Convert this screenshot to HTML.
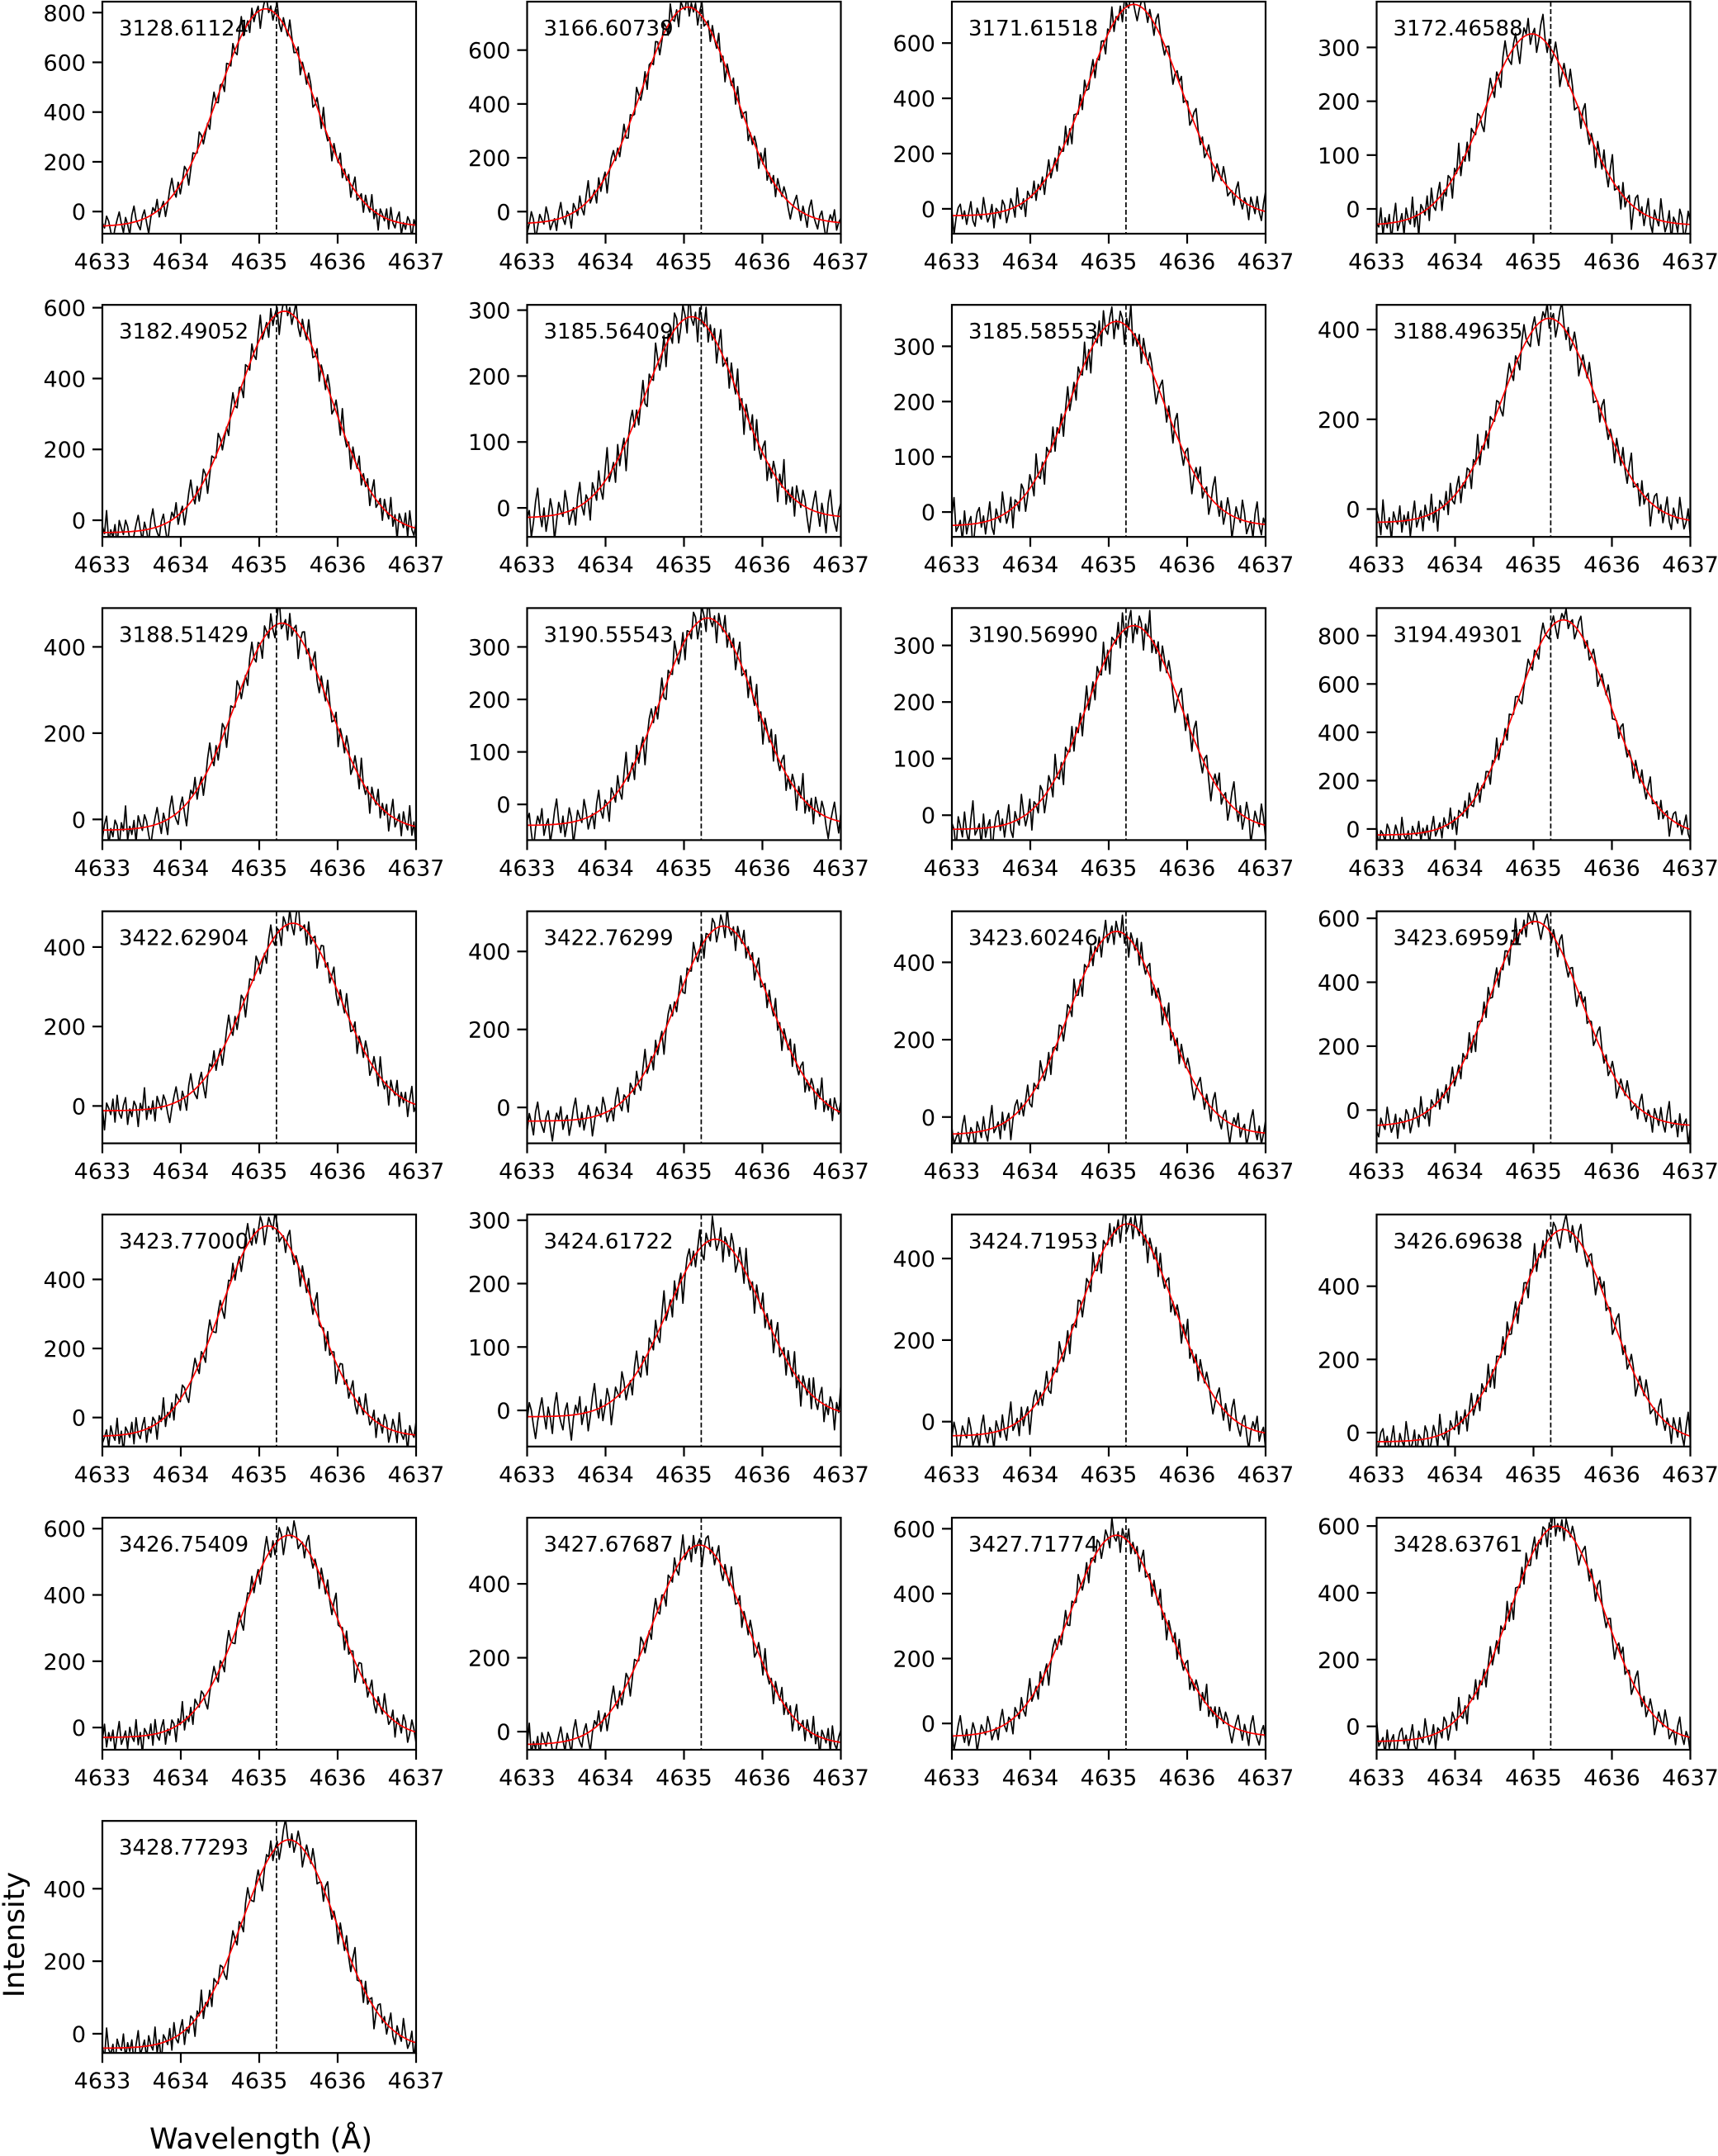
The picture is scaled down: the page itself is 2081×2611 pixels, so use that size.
<!DOCTYPE html>
<html><head><meta charset="utf-8">
<style>
html,body{margin:0;padding:0;background:#fff;}
svg{display:block;font-family:"DejaVu Sans","Liberation Sans",sans-serif;}
</style></head>
<body>
<svg id="fig" width="2081" height="2611" viewBox="0 0 2081 2611" xmlns="http://www.w3.org/2000/svg">
<text x="0" y="0" transform="translate(29,2343) rotate(-90)" font-size="35" text-anchor="middle">Intensity</text>
<text x="316" y="2602" font-size="35" text-anchor="middle">Wavelength (Å)</text>
</svg>
<script>
// ---- data ----
const labels = ["3128.61124","3166.60739","3171.61518","3172.46588","3182.49052","3185.56409","3185.58553","3188.49635","3188.51429","3190.55543","3190.56990","3194.49301","3422.62904","3422.76299","3423.60246","3423.69591","3423.77000","3424.61722","3424.71953","3426.69638","3426.75409","3427.67687","3427.71774","3428.63761","3428.77293"];
const peaks   = [815,760,740,325,590,290,345,425,455,355,335,865,460,465,480,590,555,270,485,555,580,505,580,600,535];
const centers = [4635.08,4635.05,4635.32,4634.98,4635.32,4635.1,4635.1,4635.2,4635.29,4635.3,4635.32,4635.38,4635.43,4635.5,4635.1,4635.02,4635.11,4635.4,4635.24,4635.38,4635.38,4635.2,4635.1,4635.3,4635.38];
const baselines = [-60,-45,-25,-30,-35,-15,-25,-30,-25,-40,-25,-25,-12,-35,-45,-50,-55,-10,-35,-25,-30,-35,-40,-45,-40];
const yMins = [-89,-82,-90,-46,-47,-44,-45,-62,-48,-68,-44,-46,-94,-92,-68,-104,-84,-57,-61,-38,-67,-49,-81,-70,-53];
const yMaxs = [844,780,750,385,608,308,375,455,490,374,366,914,490,503,532,622,588,309,508,596,633,579,634,625,587];
const tickSteps = [200,200,200,100,200,100,100,200,200,100,100,200,200,200,200,200,200,100,200,200,200,200,200,200,200];
const xTicks = [4633,4634,4635,4636,4637];
const refLine = 4635.22;
const sigma = 0.6;
const residuals = [0.3,-0.2,0.9,0.4,-0.6,-1.4,-0.3,0.5,1.2,0.1,-0.8,0.6,-0.1,-1.1,0.7,1.5,0.2,-0.4,-0.9,0.3,0.8,-0.5,-1.6,-0.2,0.6,0.1,1.1,-0.7,0.0,0.4,-1.2,-0.3,0.9,1.7,0.2,-0.6,0.5,-0.9,-0.1,1.0,0.3,-1.5,-0.4,0.7,0.2,-0.2,1.3,0.5,-0.8,-0.3,0.1,-1.0,0.6,1.4,-0.1,-0.7,0.4,0.0,-1.3,0.8,0.2,-0.5,1.1,-0.2,-0.9,0.6,1.8,-0.4,-0.1,0.3,-1.1,0.9,-0.6,0.1,0.5,-1.7,-0.2,0.7,1.0,-0.3,0.4,-0.8,0.2,1.2,-0.5,-1.0,0.6,0.0,-0.4,1.5,0.3,-0.7,-0.2,0.8,-1.3,0.4,0.1,-0.6,1.0,0.5,-1.1,-0.3,0.9,0.2,-0.9,1.6,-0.1,-0.5,0.3,-1.4,0.7,0.1,-0.2,1.1,-0.8,0.4,-0.3,0.6,-1.2,0.2,1.3,-0.6,-0.1,0.5,-1.0,0.8,0.0,-0.4,1.4,-0.7,0.3,-1.5,0.6,0.2,-0.3,0.9,-0.9,1.2,-0.2,-0.6,0.4,1.0,-1.1,0.1,-0.5,0.7,0.3,-1.3,0.5,-0.1,1.7,-0.8,0.2,-0.4,0.6,-1.0,0.9];

// ---- layout ----
const NS = "http://www.w3.org/2000/svg";
const svg = document.getElementById('fig');
const PW = 380, PH = 281, COLP = 514.5, ROWP = 367.2, X0 = 124, Y0 = 2;
const NPTS = 150;
function mk(tag, attrs, parent){const e=document.createElementNS(NS,tag);for(const k in attrs)e.setAttribute(k,attrs[k]);(parent||svg).appendChild(e);return e;}
function model(p,x){return baselines[p]+(peaks[p]-baselines[p])*Math.exp(-Math.pow(x-centers[p],2)/(2*sigma*sigma));}

labels.forEach((lab,p)=>{
  const col=p%4,row=Math.floor(p/4);
  const L=X0+col*COLP, T=Y0+row*ROWP, R=L+PW, B=T+PH;
  const xs=v=>L+(v-4633)/4*PW;
  const ys=v=>B-(v-yMins[p])/(yMaxs[p]-yMins[p])*PH;
  const g=mk('g',{});
  
  
  const clipId='c'+p;
  const cp=mk('clipPath',{id:clipId},g);
  mk('rect',{x:L,y:T,width:PW,height:PH},cp);
  const noiseAmp=Math.sqrt(Math.max(peaks[p],50))*1.5;
  let d='';
  for(let k=0;k<NPTS;k++){
    const x=4633+4*k/(NPTS-1);
    const v=model(p,x)+residuals[(k+37*p)%residuals.length]*noiseAmp;
    d+=(k?'L':'M')+xs(x).toFixed(1)+' '+ys(v).toFixed(1);
  }
  const dl=mk('path',{d:d,fill:'none',stroke:'#000','stroke-width':1.7,'stroke-linejoin':'round','clip-path':'url(#'+clipId+')'},g);
  
  
  let f='';
  for(let k=0;k<=200;k++){const x=4633+4*k/200;f+=(k?'L':'M')+xs(x).toFixed(1)+' '+ys(model(p,x)).toFixed(1);}
  const fl=mk('path',{d:f,fill:'none',stroke:'#ff0000','stroke-width':1.7,'clip-path':'url(#'+clipId+')'},g);
  
  
  const rl=mk('line',{x1:xs(refLine),x2:xs(refLine),y1:T,y2:B,stroke:'#000','stroke-width':1.7,'stroke-dasharray':'6,3'},g);
  
  
  const fr=mk('rect',{x:L,y:T,width:PW,height:PH,fill:'none',stroke:'#000','stroke-width':2.2},g);
  
  
  xTicks.forEach(t=>{
    mk('line',{x1:xs(t),x2:xs(t),y1:B,y2:B+12,stroke:'#000','stroke-width':2.2},g);
    const tx=mk('text',{x:xs(t),y:B+43,'font-size':27,'text-anchor':'middle'},g);
    tx.textContent=t;
    
    
  });
  const st=tickSteps[p];
  for(let t=Math.ceil(yMins[p]/st)*st;t<=yMaxs[p];t+=st){
    mk('line',{x1:L-12,x2:L,y1:ys(t),y2:ys(t),stroke:'#000','stroke-width':2.2},g);
    const ty=mk('text',{x:L-20,y:ys(t)+10,'font-size':27,'text-anchor':'end'},g);
    ty.textContent=t;
    
    
  }
  const lt=mk('text',{x:L+20,y:T+41,'font-size':26},g);
  lt.textContent=lab;
  
  
});
</script>
</body></html>
